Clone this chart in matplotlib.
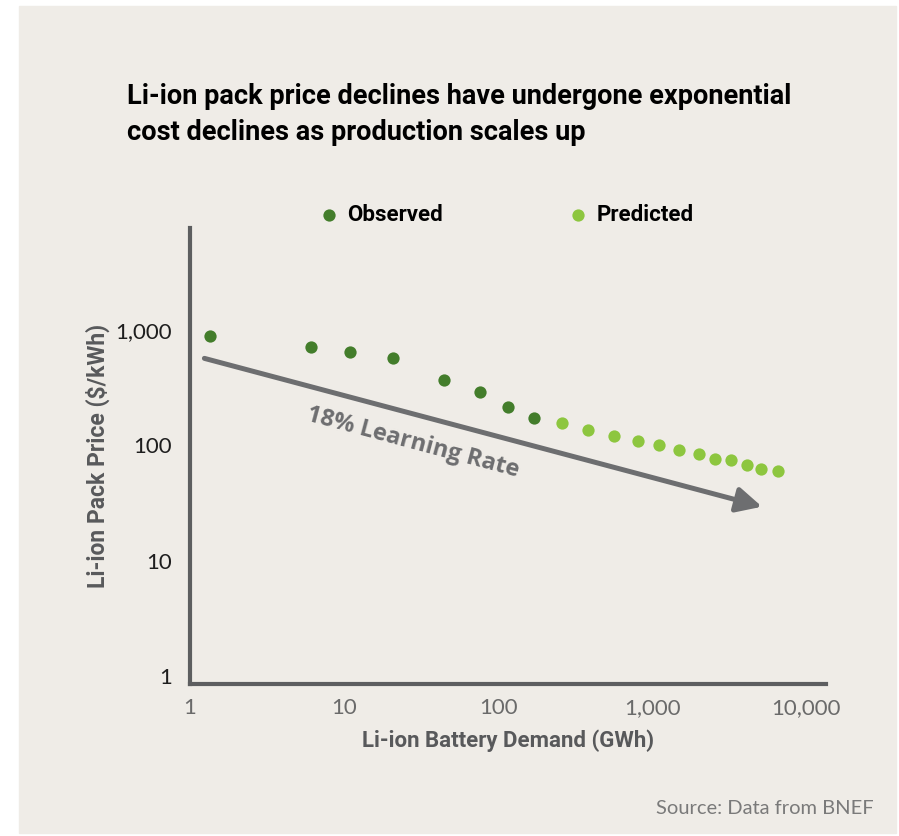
import matplotlib
matplotlib.use('Agg')
from matplotlib import pyplot as plt
from matplotlib.patches import Rectangle

# observed / predicted pack prices vs cumulative demand
obs_demand = [1.35, 6.1, 11.0, 20.7, 44.3, 75.7, 116, 170]
obs_price = [894, 718, 650, 573, 371, 290, 214, 172]
pred_demand = [258, 383, 564, 813, 1107, 1492, 2010, 2565, 3243, 4114, 5095, 6500]
pred_price = [155, 137, 120, 109, 100, 91, 85, 77, 74, 68, 62, 60]

x_ticks = [1, 10, 100, 1000, 10000]
x_labels = ['1', '10', '100', '1,000', '10,000']
y_ticks = [1, 10, 100, 1000]
y_labels = ['1', '10', '100', '1,000']

arrow_start = (1.24, 569)
arrow_end = (5150, 29.4)

bg = '#efece7'
dark_green = '#437d2b'
light_green = '#8dc63f'
grey = '#6d6e70'
cond = ['Roboto', 'DejaVu Sans']
light = ['Lato', 'DejaVu Sans']

fig = plt.figure(figsize=(8.99, 8.36), dpi=100)
fig.patch.set_facecolor('white')
fig.patches.append(Rectangle((19 / 899, 1 - 833 / 836), 877 / 899, 827 / 836,
                             transform=fig.transFigure, color=bg, zorder=-10))

ax = fig.add_axes([190 / 899, 1 - 684 / 836, 636 / 899, 456 / 836])
ax.set_facecolor('none')
ax.set_xscale('log')
ax.set_yscale('log')
ax.set_xlim(1, 13400)
ax.set_ylim(0.852, 7690)

ax.scatter(obs_demand, obs_price, s=78, color=dark_green, label='Observed', zorder=3, linewidths=0)
ax.scatter(pred_demand, pred_price, s=78, color=light_green, label='Predicted', zorder=3, linewidths=0)

ax.annotate('', xy=arrow_end, xytext=arrow_start,
            arrowprops=dict(arrowstyle='-|>', lw=3.6, color=grey, mutation_scale=38,
                            shrinkA=0, shrinkB=0))
ax.text(27.9, 105, '18% Learning Rate', rotation=-15, ha='center', va='center',
        fontsize=17, fontweight='bold', color=grey, family=['Open Sans', 'DejaVu Sans'])

for side in ['top', 'right']:
    ax.spines[side].set_visible(False)
for side in ['left', 'bottom']:
    ax.spines[side].set_linewidth(3)
    ax.spines[side].set_color('#5d5e60')

ax.set_xticks(x_ticks)
ax.set_xticklabels(x_labels)
ax.set_yticks(y_ticks)
ax.set_yticklabels(y_labels)
ax.minorticks_off()
ax.tick_params(axis='both', length=0)
ax.tick_params(axis='x', pad=10, labelsize=16, labelcolor='#6a6a6a')
ax.tick_params(axis='y', pad=13, labelsize=16, labelcolor='#1e1e1e')
for lab in ax.get_xticklabels() + ax.get_yticklabels():
    lab.set_family(light)

ax.set_xlabel('Li-ion Battery Demand (GWh)', fontsize=16, fontweight='bold',
              color='#58595b', family=cond, labelpad=8)
ax.set_ylabel('Li-ion Pack Price ($/kWh)', fontsize=16.5, fontweight='bold',
              color='#58595b', family=cond, labelpad=4)

leg = ax.legend(ncol=2, loc='center left', bbox_to_anchor=(0.205, 1.029), frameon=False,
                borderpad=0, borderaxespad=0,
                handlelength=0.8, handletextpad=0.4, columnspacing=5.7,
                prop={'family': cond, 'weight': 'bold', 'size': 16})

fig.text(127 / 899, 1 - 114.5 / 836, 'Li-ion pack price declines have undergone exponential\n'
         'cost declines as production scales up', ha='left', va='center',
         fontsize=19.5, fontweight='bold', family=cond, color='black', linespacing=1.45)
fig.text(874 / 899, 1 - 808 / 836, 'Source: Data from BNEF', ha='right', va='center',
         fontsize=14.5, color='#7a7a7a', family=light)

plt.savefig('out.png', dpi=100, facecolor=fig.get_facecolor())
